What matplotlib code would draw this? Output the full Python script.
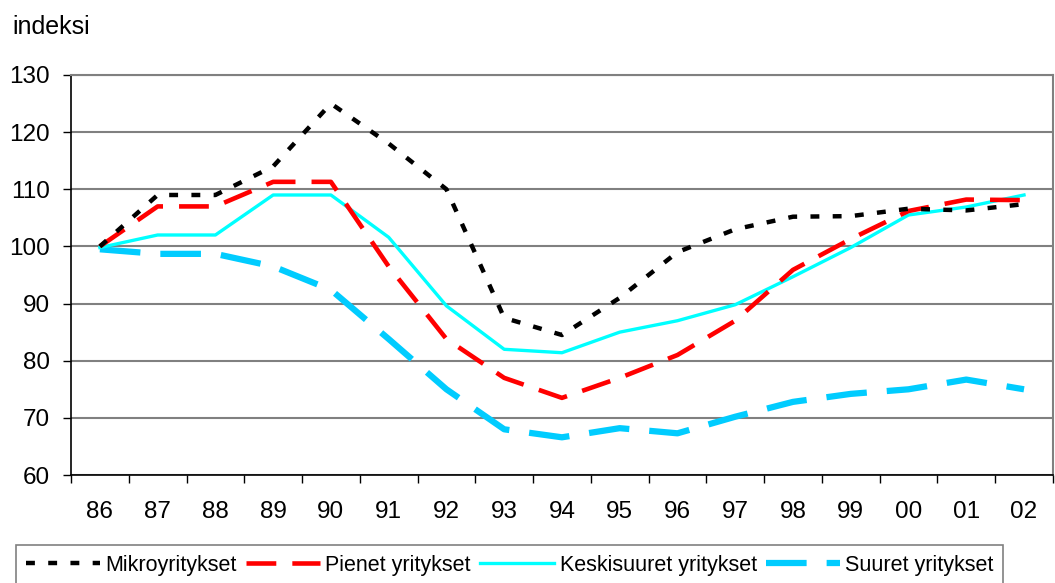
import matplotlib
matplotlib.use("Agg")
import matplotlib.pyplot as plt
from matplotlib.ticker import FixedLocator

plt.rcParams['font.family'] = ['Liberation Sans', 'DejaVu Sans']

years = ["86", "87", "88", "89", "90", "91", "92", "93", "94", "95", "96", "97", "98", "99", "00", "01", "02"]
mikro = [100, 109, 109, 114, 125, 118, 110, 87.5, 84.5, 91, 99, 103, 105.2, 105.3, 106.6, 106.3, 107.4]
pienet = [100, 107, 107, 111.3, 111.3, 96.5, 83.8, 77, 73.5, 77, 81, 87, 95.9, 101.3, 106.2, 108.2, 108.1]
keski = [99.8, 102, 102, 109, 109, 101.6, 89.6, 82, 81.4, 85, 87, 89.8, 94.7, 99.8, 105.5, 106.9, 109]
suuret = [99.5, 98.7, 98.7, 96.5, 92.4, 83.8, 75, 68, 66.6, 68.2, 67.3, 70.2, 72.8, 74.2, 75, 76.7, 75]

fig = plt.figure(figsize=(10.55, 5.83), dpi=100)
ax = fig.add_axes([0.0673, 0.1852, 0.9307, 0.6862])

x = list(range(len(years)))
ax.plot(x, mikro, color='black', lw=3.2, linestyle=(0, (2, 3)), label='Mikroyritykset', zorder=5)
ax.plot(x, pienet, color='#FF0000', lw=3.3, linestyle=(0, (6.5, 3.5)), label='Pienet yritykset', zorder=4)
ax.plot(x, keski, color='#00FFFF', lw=2.4, linestyle='-', label='Keskisuuret yritykset', zorder=3)
ax.plot(x, suuret, color='#00CCFF', lw=4.5, linestyle=(0, (6.5, 3.2)), label='Suuret yritykset', zorder=2)

ax.set_xlim(-0.5, len(years) - 0.5)
ax.set_ylim(60, 130)
ax.set_yticks(range(60, 131, 10))
ax.set_xticks(x)
ax.set_xticklabels(years)
ax.xaxis.set_minor_locator(FixedLocator([i + 0.5 for i in range(-1, len(years))]))
ax.tick_params(axis='x', which='major', length=0, pad=19, labelsize=17.5)
ax.tick_params(axis='x', which='minor', length=6, width=1, direction='out')
ax.tick_params(axis='y', length=6, width=1, labelsize=17.5, pad=9)
ax.grid(axis='y', color='#808080', lw=1.5)
ax.set_axisbelow(True)
for s in ['top', 'right']:
    ax.spines[s].set_color('#808080')
    ax.spines[s].set_linewidth(1.5)
for s in ['left', 'bottom']:
    ax.spines[s].set_color('black')
    ax.spines[s].set_linewidth(1.2)

fig.text(0.012, 0.975, 'indeksi', fontsize=18, va='top', ha='left')

leg = fig.legend(loc='upper left', bbox_to_anchor=(16 / 1055, 1 - 545 / 583),
                 ncol=4, fontsize=15.5, frameon=True, fancybox=False, handlelength=3.45,
                 handletextpad=0.25, columnspacing=0.42, borderaxespad=0, borderpad=0.45)
leg.get_frame().set_edgecolor('#606060')
leg.get_frame().set_linewidth(1.2)

fig.savefig('out.png', dpi=100)
